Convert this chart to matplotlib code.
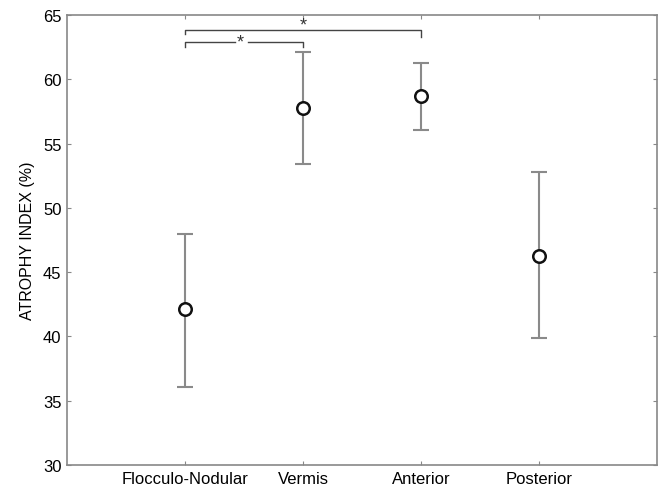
import numpy as np
import matplotlib.pyplot as plt

plt.rcParams['font.family'] = ['Liberation Sans', 'DejaVu Sans']

# atrophy index per region: mean and error bar ends
regions = ['Flocculo-Nodular', 'Vermis', 'Anterior', 'Posterior']
mean = [42.1, 57.75, 58.7, 46.3]
lower = [36.1, 53.4, 56.05, 39.85]
upper = [48.0, 62.1, 61.3, 52.8]

x = np.arange(1, len(regions) + 1)
mean = np.array(mean)
yerr = [mean - np.array(lower), np.array(upper) - mean]

fig = plt.figure(figsize=(6.59, 4.89), dpi=100)
ax = fig.add_axes([0.1017, 0.047, 0.895, 0.92])

ax.errorbar(x, mean, yerr=yerr, fmt='none', ecolor='#8a8a8a', elinewidth=1.5,
            capsize=6, capthick=1.5, zorder=2)
ax.plot(x, mean, 'o', markersize=9, markerfacecolor='white',
        markeredgecolor='#111111', markeredgewidth=1.8, zorder=3)

# significance brackets
bc = '#444444'
ax.plot([1, 1, 3, 3], [63.5, 63.83, 63.83, 63.3], color=bc, lw=1)
ax.text(2.0, 64.25, '*', ha='center', va='center', fontsize=13, color='#333333')
ax.plot([1, 1, 1.42], [62.5, 62.92, 62.92], color=bc, lw=1)
ax.plot([1.53, 2, 2], [62.92, 62.92, 62.55], color=bc, lw=1)
ax.text(1.47, 62.95, '*', ha='center', va='center', fontsize=13, color='#333333')

ax.set_xlim(0, 5)
ax.set_ylim(30, 65)
ax.set_xticks(x)
ax.set_xticklabels(regions)
ax.set_yticks(np.arange(30, 66, 5))
ax.tick_params(direction='in', length=3, color='#888888', labelsize=12,
               top=True, right=True, pad=4)
for s in ax.spines.values():
    s.set_color('#888888')
    s.set_linewidth(1.2)
ax.set_ylabel('ATROPHY INDEX (%)', fontsize=11.5, labelpad=6)

fig.savefig('out.png', dpi=100)
